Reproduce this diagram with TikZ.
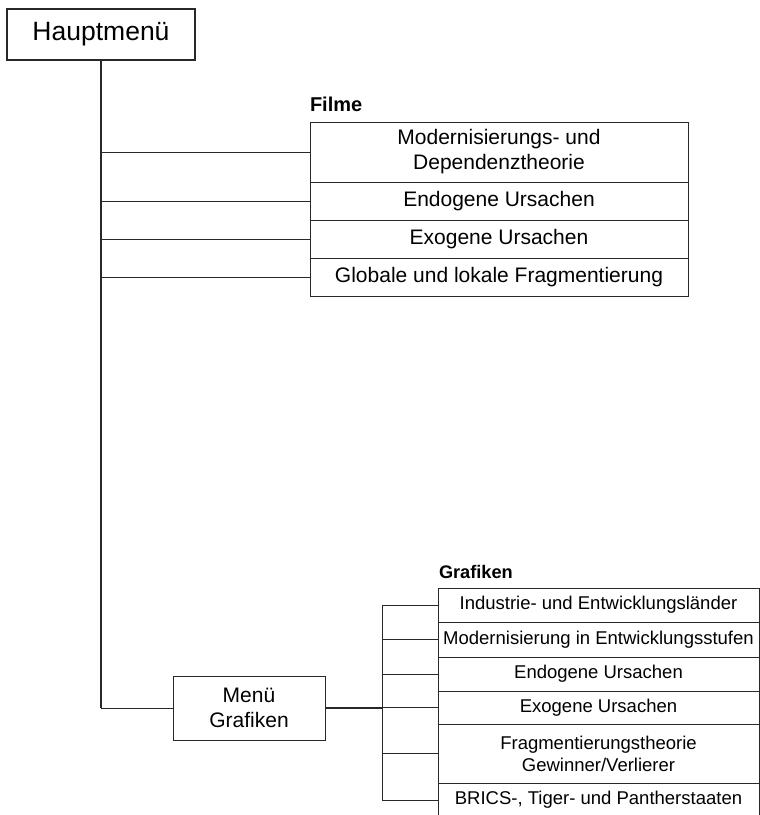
\documentclass[tikz,border=0pt]{standalone}
\usepackage{fontspec}
\setmainfont{Liberation Sans}
\definecolor{ln}{RGB}{40,40,40}
\begin{document}
\begin{tikzpicture}[x=1pt,y=-1pt,
  every node/.style={inner sep=0pt, outer sep=0pt, text=black},
  box/.style={draw=ln, line width=0.9pt, align=center, anchor=north west},
  fbox/.style={box, minimum width=378pt, font=\fontsize{21}{25}\selectfont},
  gbox/.style={box, minimum width=321pt, font=\fontsize{18.5}{22}\selectfont},
  head/.style={anchor=base west, font=\bfseries\fontsize{20}{24}\selectfont},
  conn/.style={draw=ln, line width=0.9pt},
  mainline/.style={draw=ln, line width=1.6pt}
]
\useasboundingbox (0,0) rectangle (760,815);
% Hauptmenue
\node[draw=ln, line width=1.8pt, minimum width=188pt, minimum height=51pt,
      font=\fontsize{26.5}{30}\selectfont] (hm) at (101,34.5) {Hauptmenü};
% Filme
\node[head] (filme) at (310,111) {Filme};
\node[fbox, minimum height=60pt] (f1) at (310,122) {Modernisierungs- und\\Dependenztheorie};
\node[fbox, minimum height=38pt] (f2) at (310,182) {Endogene Ursachen};
\node[fbox, minimum height=38pt] (f3) at (310,220) {Exogene Ursachen};
\node[fbox, minimum height=38pt] (f4) at (310,258) {Globale und lokale Fragmentierung};
% Menue Grafiken
\node[draw=ln, line width=0.9pt, minimum width=152pt, minimum height=64pt, align=center,
      font=\fontsize{21}{24.5}\selectfont] (mg) at (249,708) {Menü\\Grafiken};
% Grafiken
\node[head, font=\bfseries\fontsize{18.2}{22}\selectfont] (graf) at (439,578) {Grafiken};
\node[gbox, minimum height=34pt] (g1) at (438,588) {Industrie- und Entwicklungsländer};
\node[gbox, minimum height=35pt] (g2) at (438,622) {Modernisierung in Entwicklungsstufen};
\node[gbox, minimum height=34pt] (g3) at (438,657) {Endogene Ursachen};
\node[gbox, minimum height=33pt] (g4) at (438,691) {Exogene Ursachen};
\node[gbox, minimum height=59pt] (g5) at (438,724) {Fragmentierungstheorie\\Gewinner/Verlierer};
\node[gbox, minimum height=34pt] (g6) at (438,783) {BRICS-, Tiger- und Pantherstaaten};
% connectors
\coordinate (corner) at (hm.south |- mg.west);
\draw[mainline] (hm.south) -- (corner);
\draw[conn] (corner) -- (mg.west);
\foreach \n in {f1,f2,f3,f4} {
  \draw[conn] (hm.south |- \n.west) -- (\n.west);
}
\coordinate (gx) at (382,708);
\draw[mainline] (mg.east) -- (gx |- mg.east);
\draw[conn] (gx |- g1.west) -- (gx |- g6.west);
\foreach \n in {g1,g2,g3,g4,g5,g6} {
  \draw[conn] (gx |- \n.west) -- (\n.west);
}
\end{tikzpicture}
\end{document}
